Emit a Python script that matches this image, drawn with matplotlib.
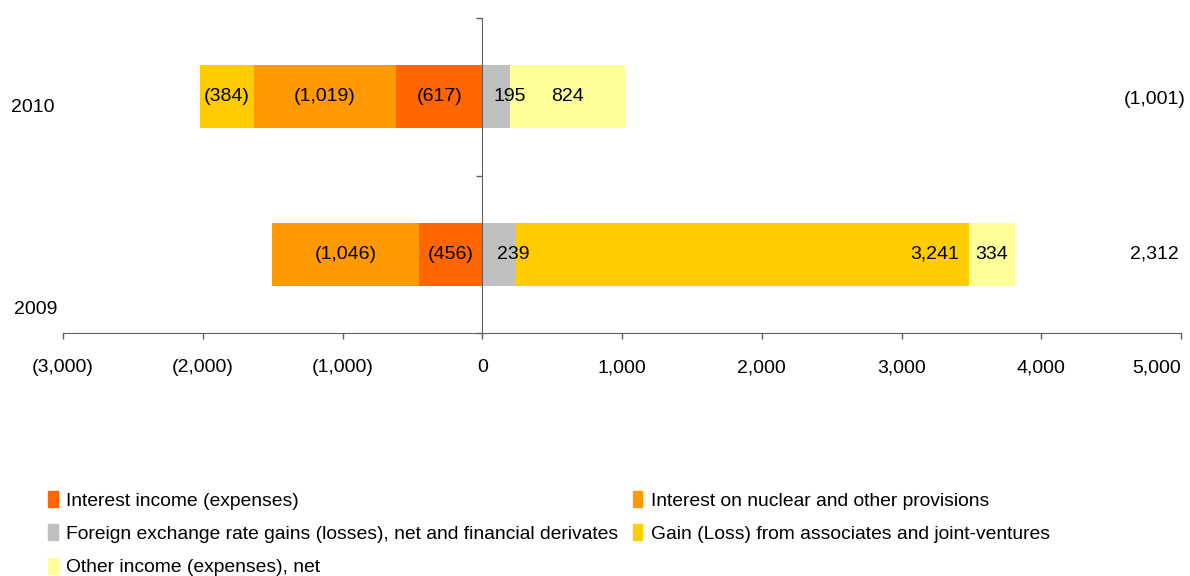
import matplotlib.pyplot as plt
from matplotlib.patches import Patch

plt.rcParams['font.family'] = ['Liberation Sans', 'DejaVu Sans']

# Données
years = ['2010', '2009']
interest_income = [-617, -456]
nuclear_provisions = [-1019, -1046]
fx_gains = [195, 239]
associates = [-384, 3241]
other_income = [824, 334]

series = [
    ('Interest income (expenses)', interest_income, '#FF6600'),
    ('Interest on nuclear and other provisions', nuclear_provisions, '#FF9900'),
    ('Foreign exchange rate gains (losses), net and financial derivates', fx_gains, '#C0C0C0'),
    ('Gain (Loss) from associates and joint-ventures', associates, '#FFCC00'),
    ('Other income (expenses), net', other_income, '#FFFF99'),
]
xticks = list(range(-3000, 5001, 1000))


def fmt(v):
    return '({:,})'.format(-v) if v < 0 else '{:,}'.format(v)


fs = 14
fig = plt.figure(figsize=(11.9, 5.76), dpi=100)
ax = fig.add_axes([63 / 1190, 1 - 333 / 576, (1181 - 63) / 1190, 315 / 576])

ypos = [1, 0]
pos_base = [0, 0]
neg_base = [0, 0]
for name, vals, color in series:
    for i, v in enumerate(vals):
        if v >= 0:
            left = pos_base[i]
            pos_base[i] += v
        else:
            left = neg_base[i] + v
            neg_base[i] += v
        ax.barh(ypos[i], abs(v), left=left, height=0.4, color=color, edgecolor='none')
        if name.startswith('Gain') and v > 1000:
            ax.annotate(fmt(v), (left + abs(v), ypos[i]), xytext=(-7, 0),
                        textcoords='offset points', ha='right', va='center', fontsize=fs)
        elif name.startswith('Foreign'):
            ax.annotate(fmt(v), (left + abs(v) / 2, ypos[i]), xytext=(10, 0),
                        textcoords='offset points', ha='center', va='center', fontsize=fs)
        else:
            ax.text(left + abs(v) / 2, ypos[i], fmt(v), ha='center', va='center', fontsize=fs)

# totaux à droite
for i in range(len(years)):
    total = sum(s[1][i] for s in series)
    ax.text(4810, ypos[i] - (0.02 if i == 0 else 0), fmt(total), ha='center', va='center', fontsize=fs)

ax.set_xlim(-3000, 5000)
ax.set_ylim(-0.5, 1.5)
ax.set_xticks(xticks)
ax.set_xticklabels([fmt(t) for t in xticks], fontsize=fs)
ax.get_xticklabels()[-1].set_ha('right')
ax.set_yticks([-0.5, 0.5, 1.5])
ax.set_yticklabels([])

for s in ['top', 'right']:
    ax.spines[s].set_visible(False)
ax.spines['left'].set_position(('data', 0))
ax.spines['left'].set_color('#606060')
ax.spines['bottom'].set_color('#606060')
ax.tick_params(axis='x', length=4, width=1, color='#606060', pad=15)
ax.tick_params(axis='y', length=4, width=1, color='#606060')

fig.text(33 / 1190, 1 - 107 / 576, years[0], ha='center', va='center', fontsize=fs)
fig.text(36 / 1190, 1 - 310 / 576, years[1], ha='center', va='center', fontsize=fs)

handles = [Patch(color=c, label=n) for n, _, c in series]
order = [0, 2, 4, 1, 3]
fig.legend([handles[k] for k in order], [handles[k].get_label() for k in order],
           loc='upper left', bbox_to_anchor=(48 / 1190, 1 - 491 / 576), ncol=2,
           frameon=False, fontsize=13.85, handlelength=0.5, handleheight=0.9,
           handletextpad=0.45, columnspacing=0.75, labelspacing=0.77, borderpad=0,
           borderaxespad=0)

fig.savefig('out.png', dpi=100)
